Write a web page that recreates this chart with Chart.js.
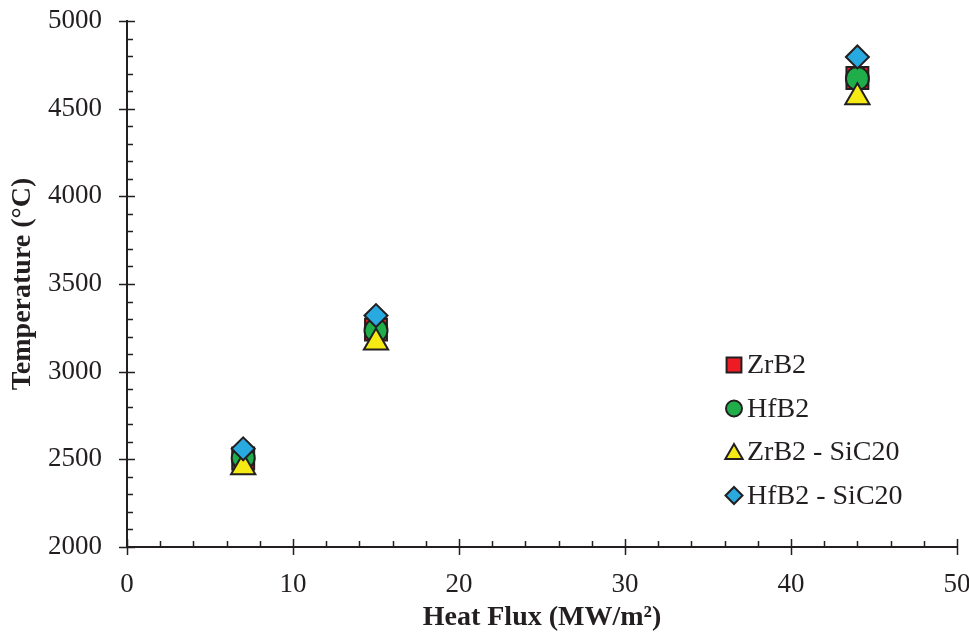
<!DOCTYPE html>
<html>
<head>
<meta charset="utf-8">
<script src="https://cdn.jsdelivr.net/npm/chart.js@4/dist/chart.umd.min.js"></script>
<style>
html,body{margin:0;padding:0;background:#fff;}
#wrap{width:969px;height:635px;position:relative;}
</style>
</head>
<body>
<div id="wrap"><canvas id="c" width="969" height="635"></canvas></div>
<script>
const heatFlux = [7, 15, 44];
const zrb2 = [2505, 3240, 4675];
const hfb2 = [2508, 3235, 4672];
const zrb2SiC = [2455, 3167, 4565];
const hfb2SiC = [2560, 3320, 4795];
const seriesNames = ['ZrB2', 'HfB2', 'ZrB2 - SiC20', 'HfB2 - SiC20'];
const yTicks = [2000, 2500, 3000, 3500, 4000, 4500, 5000];
const xTicks = [0, 10, 20, 30, 40, 50];

const FONT = '"Liberation Serif", "Times New Roman", serif';
const INK = '#231f20';

function pts(ys){ return heatFlux.map((x,i)=>({x:x, y:ys[i]})); }

const styles = [
  {color:'#ED1C24', style:'rect', r:15.5, lr:10.5},
  {color:'#20AE4B', style:'circle', r:11.5, lr:8},
  {color:'#F5EA14', style:'triangle', r:14, lr:10},
  {color:'#28A9E0', style:'rectRot', r:11.5, lr:8.5}
];
const seriesData = [zrb2, hfb2, zrb2SiC, hfb2SiC];

const datasets = seriesData.map((d,i)=>({
  label: seriesNames[i],
  data: pts(d),
  pointStyle: styles[i].style,
  pointRadius: styles[i].r,
  pointHoverRadius: styles[i].r,
  backgroundColor: styles[i].color,
  borderColor: INK,
  borderWidth: 2,
  pointBorderWidth: 2,
  showLine: false,
  order: 4 - i
}));

const axisTicks = {
  id: 'axisTicks',
  afterDraw(chart){
    const ctx = chart.ctx;
    const xs = chart.scales.x, ys = chart.scales.y;
    const area = chart.chartArea;
    ctx.save();
    ctx.strokeStyle = INK;
    ctx.lineWidth = 1.5;
    ctx.beginPath();
    for (const v of yTicks){
      const p = Math.round(ys.getPixelForValue(v)) + 0.5;
      ctx.moveTo(area.left - 8, p); ctx.lineTo(area.left + 8, p);
    }
    for (let v = ys.min; v <= ys.max; v += 100){
      if (v % 500 === 0) continue;
      const p = Math.round(ys.getPixelForValue(v)) + 0.5;
      ctx.moveTo(area.left, p); ctx.lineTo(area.left + 6, p);
    }
    for (const v of xTicks){
      const p = Math.round(xs.getPixelForValue(v)) + 0.5;
      ctx.moveTo(p, area.bottom + 8); ctx.lineTo(p, area.bottom - 8);
    }
    for (let v = xs.min; v <= xs.max; v += 2){
      if (v % 10 === 0) continue;
      const p = Math.round(xs.getPixelForValue(v)) + 0.5;
      ctx.moveTo(p, area.bottom); ctx.lineTo(p, area.bottom - 6);
    }
    ctx.stroke();
    ctx.restore();
  }
};

const customLegend = {
  id: 'customLegend',
  afterDraw(chart){
    const ctx = chart.ctx;
    const rows = [365, 408.5, 452, 495.5];
    const mx = 734, tx = 747;
    ctx.save();
    ctx.font = '28px ' + FONT;
    ctx.textBaseline = 'middle';
    seriesNames.forEach((name,i)=>{
      const s = styles[i];
      ctx.fillStyle = s.color;
      ctx.strokeStyle = INK;
      ctx.lineWidth = 2;
      Chart.helpers.drawPoint(ctx, {pointStyle:s.style, radius:s.lr, rotation:0, borderWidth:2}, mx, rows[i] + (s.style==='triangle'?2:0));
      ctx.fillStyle = INK;
      ctx.fillText(name, tx, rows[i] + 1);
    });
    ctx.restore();
  }
};

const plainLabel = v => String(v);

new Chart(document.getElementById('c'), {
  type: 'scatter',
  data: { datasets },
  options: {
    responsive: false,
    animation: false,
    events: [],
    layout: { autoPadding: false, padding: { top: 21, right: 12, left: 0, bottom: 0 } },
    plugins: {
      legend: { display: false },
      tooltip: { enabled: false }
    },
    scales: {
      x: {
        type: 'linear',
        min: 0, max: 50,
        afterBuildTicks(scale){ scale.ticks = xTicks.map(v=>({value:v})); },
        afterFit(scale){ scale.height = 88; scale.paddingLeft = 0; scale.paddingRight = 0; },
        grid: { display: false, drawTicks: false },
        border: { display: true, color: INK, width: 2 },
        ticks: { padding: 22, color: INK, font: { family: FONT, size: 27 }, maxRotation: 0, callback: plainLabel },
        title: { display: true, text: 'Heat Flux (MW/m²)', color: INK, font: { family: FONT, size: 28, weight: 'bold' }, padding: { top: 2, bottom: 0 } }
      },
      y: {
        type: 'linear',
        min: 2000, max: 5000,
        afterBuildTicks(scale){ scale.ticks = yTicks.map(v=>({value:v})); },
        afterFit(scale){ scale.width = 127; scale.paddingTop = 0; scale.paddingBottom = 0; },
        grid: { display: false, drawTicks: false },
        border: { display: true, color: INK, width: 2 },
        ticks: { padding: 25, color: INK, font: { family: FONT, size: 27 }, callback: plainLabel },
        title: { display: true, text: 'Temperature (°C)', color: INK, font: { family: FONT, size: 28, weight: 'bold' }, padding: { top: 6, bottom: 0 } }
      }
    }
  },
  plugins: [axisTicks, customLegend]
});
</script>
</body>
</html>
